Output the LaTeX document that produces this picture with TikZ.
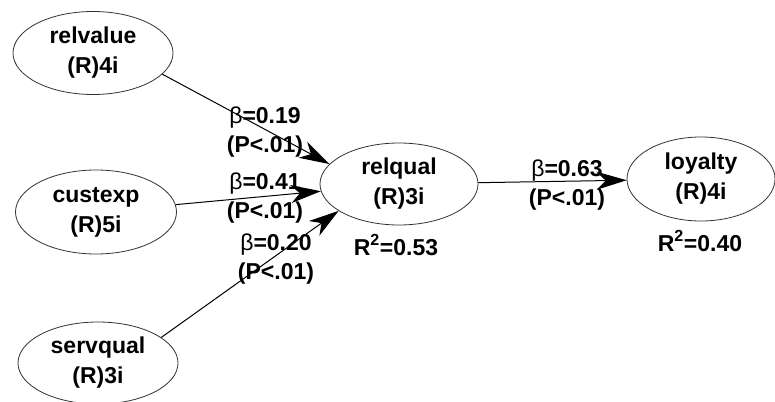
\documentclass[tikz,border=0pt]{standalone}
\usepackage{fontspec}
\setmainfont{Liberation Sans}
\usetikzlibrary{shapes.geometric,arrows.meta}
\tikzset{
  latent/.style={ellipse, draw=black!80, line width=0.8pt, inner sep=0pt,
    align=center, font=\fontsize{23}{30}\selectfont\bfseries},
  path/.style={draw, line width=1pt,
    -{Stealth[length=30pt,width=18pt,inset=9pt]}},
  coef/.style={align=center, inner sep=0pt, font=\fontsize{23}{29}\selectfont\bfseries},
  rsq/.style={inner sep=0pt, font=\fontsize{23}{25}\selectfont\bfseries}
}
\newcommand{\bet}{{\mdseries β}}
\begin{document}
\begin{tikzpicture}[x=1pt,y=-1pt]
  \useasboundingbox[fill=white] (0,0) rectangle (775,401);

  % latent variables
  \node[latent, minimum width=160pt, minimum height=83pt] (relvalue) at (93,53) {relvalue\\(R)4i};
  \node[latent, minimum width=161pt, minimum height=84pt] (custexp) at (96,212) {custexp\\(R)5i};
  \node[latent, minimum width=160pt, minimum height=82pt] (servqual) at (98,363) {servqual\\(R)3i};
  \node[latent, minimum width=158pt, minimum height=82pt] (relqual) at (399,184) {relqual\\(R)3i};
  \node[latent, minimum width=148pt, minimum height=84pt] (loyalty) at (701,179) {loyalty\\(R)4i};

  % explained variance
  \node[rsq] (r1) at (396,245) {R\textsuperscript{2}=0.53};
  \node[rsq] (r2) at (700,241) {R\textsuperscript{2}=0.40};

  % path coefficients
  \node[coef] (c1) at (265,132) {\bet=0.19\\(P<.01)};
  \node[coef] (c2) at (265,198) {\bet=0.41\\(P<.01)};
  \node[coef] (c3) at (276,259) {\bet=0.20\\(P<.01)};
  \node[coef] (c4) at (567,185) {\bet=0.63\\(P<.01)};

  % structural paths
  \draw[path] (relvalue.-17) -- (relqual.164);
  \draw[path] (custexp) -- (relqual);
  \draw[path] (servqual.22) -- (relqual.204);
  \draw[path] (relqual) -- (loyalty);
\end{tikzpicture}
\end{document}
